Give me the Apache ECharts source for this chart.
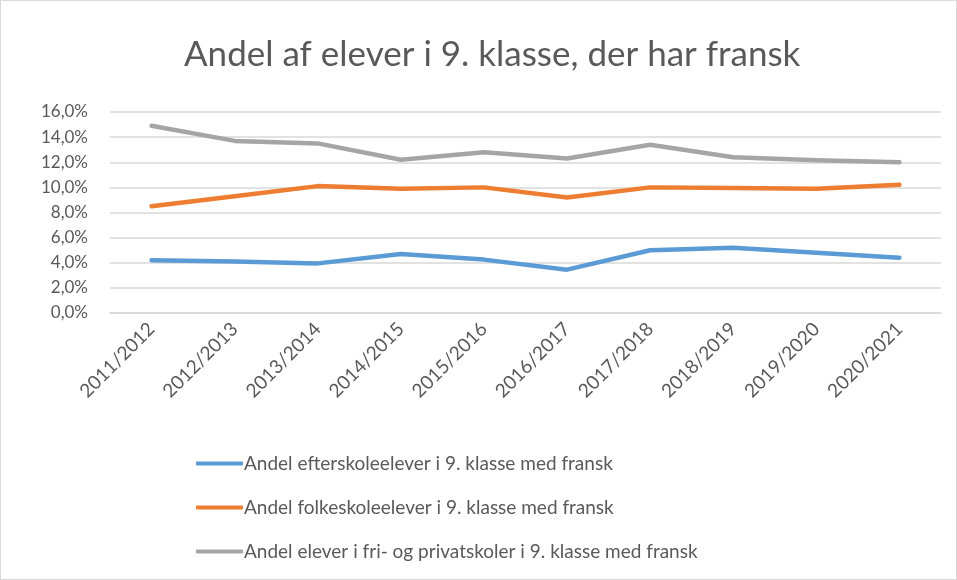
<!DOCTYPE html>
<html>
<head>
<meta charset="utf-8">
<script src="https://cdn.jsdelivr.net/npm/echarts@6/dist/echarts.min.js"></script>
<style>
  html, body { margin: 0; padding: 0; background: #fff; }
  #chart { width: 957px; height: 580px; box-sizing: border-box; border: 1px solid #d9d9d9; }
</style>
</head>
<body>
<div id="chart"></div>
<script>
var years = ['2011/2012', '2012/2013', '2013/2014', '2014/2015', '2015/2016',
  '2016/2017', '2017/2018', '2018/2019', '2019/2020', '2020/2021'];
var efterskole = [4.2, 4.1, 3.95, 4.7, 4.25, 3.45, 5.0, 5.2, 4.8, 4.4];
var folkeskole = [8.5, 9.3, 10.1, 9.9, 10.0, 9.2, 10.0, 9.95, 9.9, 10.2];
var friskole = [14.9, 13.7, 13.5, 12.2, 12.8, 12.3, 13.4, 12.4, 12.15, 12.0];
var seriesNames = [
  'Andel efterskoleelever i 9. klasse med fransk',
  'Andel folkeskoleelever i 9. klasse med fransk',
  'Andel elever i fri- og privatskoler i 9. klasse med fransk'
];
var colorList = ['#5b9bd5', '#ed7d31', '#a5a5a5'];
var font = 'Lato';

var chart = echarts.init(document.getElementById('chart'));
var seriesData = [efterskole, folkeskole, friskole];
var seriesArr = [];
for (var i = 0; i < seriesData.length; i++) {
  seriesArr.push({
    name: seriesNames[i],
    type: 'line',
    data: seriesData[i],
    symbol: 'none',
    lineStyle: { color: colorList[i], width: 4.5, cap: 'round', join: 'round' },
    itemStyle: { color: colorList[i] }
  });
}

chart.setOption({
  animation: false,
  title: {
    text: 'Andel af elever i 9. klasse, der har fransk',
    left: 178,
    top: 31,
    textStyle: { fontFamily: font, fontSize: 35, fontWeight: 'normal', color: '#595959' }
  },
  legend: {
    orient: 'vertical',
    left: 190,
    top: 448,
    itemGap: 25,
    itemWidth: 47,
    itemHeight: 4,
    icon: 'roundRect',
    data: seriesNames,
    textStyle: { fontFamily: font, fontSize: 19, color: '#595959', padding: [0, 0, 0, -4] }
  },
  grid: { left: 109, right: 15, top: 111, height: 201 },
  xAxis: {
    type: 'category',
    data: years,
    boundaryGap: true,
    axisLine: { show: true, lineStyle: { color: '#d9d9d9', width: 1.5 } },
    axisTick: { show: false },
    axisLabel: {
      rotate: 45,
      margin: 13,
      fontFamily: font,
      fontSize: 19,
      color: '#595959'
    }
  },
  yAxis: {
    type: 'value',
    min: 0,
    max: 16,
    interval: 2,
    axisLine: { show: false },
    axisTick: { show: false },
    splitLine: { lineStyle: { color: '#d9d9d9', width: 1.5 } },
    axisLabel: {
      margin: 22,
      fontFamily: font,
      fontSize: 17,
      color: '#595959',
      formatter: function (v) { return v.toFixed(1).replace('.', ',') + '%'; }
    }
  },
  series: seriesArr
});
</script>
</body>
</html>
